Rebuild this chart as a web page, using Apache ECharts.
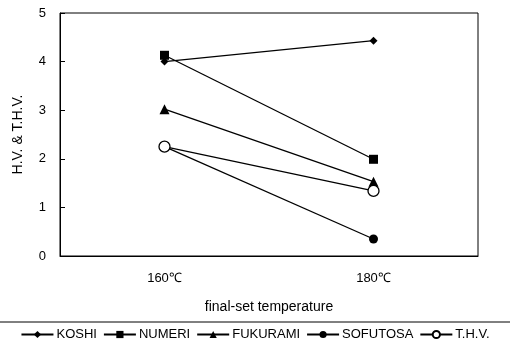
<!DOCTYPE html>
<html><head><meta charset="utf-8">
<script src="https://cdn.jsdelivr.net/npm/echarts@6/dist/echarts.min.js"></script>
<style>html,body{margin:0;padding:0;background:#fff}#c{width:510px;height:350px}</style>
</head><body><div id="c"></div>
<script>
const categories = ['160℃', '180℃'];
const koshi = [4.0, 4.43];
const numeri = [4.13, 1.99];
const fukurami = [3.02, 1.53];
const sofutosa = [2.25, 0.35];
const thv = [2.25, 1.34];
const yTicks = [0, 1, 2, 3, 4, 5];

const chart = echarts.init(document.getElementById('c'));
const font = 'Liberation Sans, Arial, sans-serif';
function s(name, data, symbol, size, fill) {
  return {
    name, type: 'line', data, symbol, symbolSize: size,
    lineStyle: { color: '#000', width: 1.3 },
    itemStyle: { color: fill, borderColor: '#000', borderWidth: fill === '#fff' ? 1.3 : 0 },
    animation: false
  };
}
chart.setOption({
  animation: false,
  backgroundColor: '#fff',
  grid: { left: 60, right: 32, top: 13, bottom: 94, show: true, borderColor: '#000', borderWidth: 1 },
  xAxis: {
    type: 'category', data: categories, boundaryGap: true,
    name: 'final-set temperature', nameLocation: 'middle', nameGap: 44,
    nameTextStyle: { color: '#000', fontSize: 14, fontFamily: font },
    axisLine: { lineStyle: { color: '#000' } },
    axisTick: { inside: true, length: 5, lineStyle: { color: '#000' } },
    axisLabel: { color: '#000', fontSize: 13, fontFamily: font, margin: 16 }
  },
  yAxis: {
    type: 'value', min: yTicks[0], max: yTicks[yTicks.length - 1], interval: 1,
    name: 'H.V. & T.H.V.', nameLocation: 'middle', nameGap: 35,
    nameTextStyle: { color: '#000', fontSize: 14, fontFamily: font },
    axisLine: { show: true, lineStyle: { color: '#000' } },
    axisTick: { show: true, inside: true, length: 5, lineStyle: { color: '#000' } },
    splitLine: { show: false },
    axisLabel: { color: '#000', fontSize: 13, fontFamily: font, margin: 14 }
  },
  legend: {
    bottom: 4, left: 'center', itemGap: 6, itemWidth: 32, itemHeight: 9,
    textStyle: { color: '#000', fontSize: 13, fontFamily: font, padding: [0, 0, 0, -2] },
    data: ['KOSHI', 'NUMERI', 'FUKURAMI', 'SOFUTOSA', 'T.H.V.']
  },
  graphic: [{ type: 'line', shape: { x1: 0, y1: 322, x2: 510, y2: 322 }, style: { stroke: '#000', lineWidth: 1 } }],
  series: [
    s('KOSHI', koshi, 'diamond', 8, '#000'),
    s('NUMERI', numeri, 'rect', 9, '#000'),
    s('FUKURAMI', fukurami, 'triangle', 10, '#000'),
    s('SOFUTOSA', sofutosa, 'circle', 9, '#000'),
    s('T.H.V.', thv, 'circle', 11, '#fff')
  ]
});
</script></body></html>
